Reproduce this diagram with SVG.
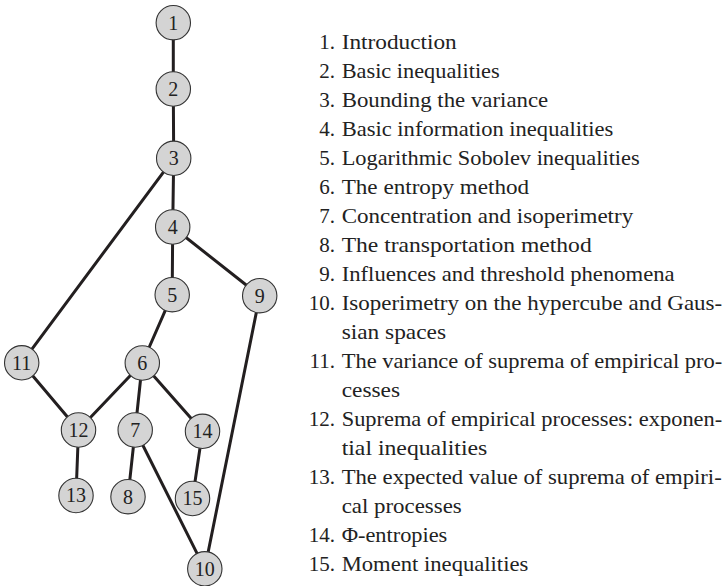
<svg xmlns="http://www.w3.org/2000/svg" width="723" height="586" viewBox="0 0 723 586">
<style>
.e{stroke:#231f20;stroke-width:3;stroke-linecap:round;fill:none}
.n circle{fill:#d4d4d4;stroke:#333;stroke-width:1.1}
.n text{font-family:"Liberation Serif","DejaVu Serif",serif;font-size:20px;fill:#222;text-anchor:middle}
.t text{font-family:"Liberation Serif","DejaVu Serif",serif;font-size:21px;fill:#222}
.t .num{text-anchor:end}
</style>
<rect width="723" height="586" fill="#fff"/>
<g id="connectors">
<line class="e" x1="173.3" y1="22.7" x2="173.3" y2="89"/>
<line class="e" x1="173.3" y1="89" x2="173.7" y2="158.3"/>
<line class="e" x1="173.7" y1="158.3" x2="172.7" y2="227"/>
<line class="e" x1="173.7" y1="158.3" x2="21.7" y2="362.8"/>
<line class="e" x1="172.7" y1="227" x2="172.2" y2="294.7"/>
<line class="e" x1="172.7" y1="227" x2="259.7" y2="295.7"/>
<line class="e" x1="172.2" y1="294.7" x2="142.3" y2="363"/>
<line class="e" x1="259.7" y1="295.7" x2="204.8" y2="568.8"/>
<line class="e" x1="21.7" y1="362.8" x2="78.5" y2="430"/>
<line class="e" x1="142.3" y1="363" x2="78.5" y2="430"/>
<line class="e" x1="142.3" y1="363" x2="135.2" y2="430"/>
<line class="e" x1="142.3" y1="363" x2="202.5" y2="431.3"/>
<line class="e" x1="78.5" y1="430" x2="76" y2="495.5"/>
<line class="e" x1="135.2" y1="430" x2="128" y2="496.7"/>
<line class="e" x1="135.2" y1="430" x2="204.8" y2="568.8"/>
<line class="e" x1="202.5" y1="431.3" x2="192.5" y2="498.5"/>
</g>
<g id="node1" class="n"><circle cx="173.3" cy="22.7" r="17.2"/><text x="173.3" y="29.5">1</text></g>
<g id="node2" class="n"><circle cx="173.3" cy="89" r="17.2"/><text x="173.3" y="95.8">2</text></g>
<g id="node3" class="n"><circle cx="173.7" cy="158.3" r="17.2"/><text x="173.7" y="165.1">3</text></g>
<g id="node4" class="n"><circle cx="172.7" cy="227" r="17.2"/><text x="172.7" y="233.8">4</text></g>
<g id="node5" class="n"><circle cx="172.2" cy="294.7" r="17.2"/><text x="172.2" y="301.5">5</text></g>
<g id="node9" class="n"><circle cx="259.7" cy="295.7" r="17.2"/><text x="259.7" y="302.5">9</text></g>
<g id="node11" class="n"><circle cx="21.7" cy="362.8" r="17.2"/><text x="21.7" y="369.6">11</text></g>
<g id="node6" class="n"><circle cx="142.3" cy="363" r="17.2"/><text x="142.3" y="369.8">6</text></g>
<g id="node12" class="n"><circle cx="78.5" cy="430" r="17.2"/><text x="78.5" y="436.8">12</text></g>
<g id="node7" class="n"><circle cx="135.2" cy="430" r="17.2"/><text x="135.2" y="436.8">7</text></g>
<g id="node14" class="n"><circle cx="202.5" cy="431.3" r="17.2"/><text x="202.5" y="438.1">14</text></g>
<g id="node13" class="n"><circle cx="76" cy="495.5" r="17.2"/><text x="76" y="502.3">13</text></g>
<g id="node8" class="n"><circle cx="128" cy="496.7" r="17.2"/><text x="128" y="503.5">8</text></g>
<g id="node15" class="n"><circle cx="192.5" cy="498.5" r="17.2"/><text x="192.5" y="505.3">15</text></g>
<g id="node10" class="n"><circle cx="204.8" cy="568.8" r="17.2"/><text x="204.8" y="575.6">10</text></g>
<g id="legend" class="t">
<text class="num" x="335" y="48.5">1.</text><text x="341.7" y="48.5" textLength="115" lengthAdjust="spacingAndGlyphs">Introduction</text>
<text class="num" x="335" y="77.5">2.</text><text x="341.7" y="77.5" textLength="158" lengthAdjust="spacingAndGlyphs">Basic inequalities</text>
<text class="num" x="335" y="106.5">3.</text><text x="341.7" y="106.5" textLength="206.5" lengthAdjust="spacingAndGlyphs">Bounding the variance</text>
<text class="num" x="335" y="135.5">4.</text><text x="341.7" y="135.5" textLength="271.5" lengthAdjust="spacingAndGlyphs">Basic information inequalities</text>
<text class="num" x="335" y="164.5">5.</text><text x="341.7" y="164.5" textLength="298" lengthAdjust="spacingAndGlyphs">Logarithmic Sobolev inequalities</text>
<text class="num" x="335" y="193.5">6.</text><text x="341.7" y="193.5" textLength="187.5" lengthAdjust="spacingAndGlyphs">The entropy method</text>
<text class="num" x="335" y="222.5">7.</text><text x="341.7" y="222.5" textLength="291.5" lengthAdjust="spacingAndGlyphs">Concentration and isoperimetry</text>
<text class="num" x="335" y="251.5">8.</text><text x="341.7" y="251.5" textLength="250" lengthAdjust="spacingAndGlyphs">The transportation method</text>
<text class="num" x="335" y="280.5">9.</text><text x="341.7" y="280.5" textLength="333" lengthAdjust="spacingAndGlyphs">Influences and threshold phenomena</text>
<text class="num" x="335" y="309.5">10.</text><text x="341.7" y="309.5" textLength="380.5" lengthAdjust="spacingAndGlyphs">Isoperimetry on the hypercube and Gaus-</text>
<text x="341.7" y="338.5" textLength="104.3" lengthAdjust="spacingAndGlyphs">sian spaces</text>
<text class="num" x="335" y="367.5">11.</text><text x="341.7" y="367.5" textLength="380.5" lengthAdjust="spacingAndGlyphs">The variance of suprema of empirical pro-</text>
<text x="341.7" y="396.5" textLength="58.3" lengthAdjust="spacingAndGlyphs">cesses</text>
<text class="num" x="335" y="425.5">12.</text><text x="341.7" y="425.5" textLength="380.5" lengthAdjust="spacingAndGlyphs">Suprema of empirical processes: exponen-</text>
<text x="341.7" y="454.5" textLength="145.6" lengthAdjust="spacingAndGlyphs">tial inequalities</text>
<text class="num" x="335" y="483.5">13.</text><text x="341.7" y="483.5" textLength="380" lengthAdjust="spacingAndGlyphs">The expected value of suprema of empiri-</text>
<text x="341.7" y="512.5" textLength="120" lengthAdjust="spacingAndGlyphs">cal processes</text>
<text class="num" x="335" y="541.5">14.</text><text x="341.7" y="541.5" textLength="105.6" lengthAdjust="spacingAndGlyphs">Φ-entropies</text>
<text class="num" x="335" y="570.5">15.</text><text x="341.7" y="570.5" textLength="186.6" lengthAdjust="spacingAndGlyphs">Moment inequalities</text>
</g>
</svg>
